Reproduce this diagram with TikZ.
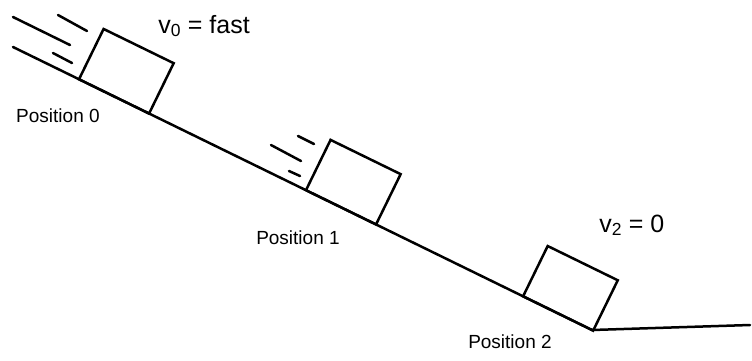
\documentclass[tikz,border=0pt]{standalone}
\usepackage{fontspec}
\setmainfont{Liberation Sans}
\usetikzlibrary{calc}
\begin{document}
\begin{tikzpicture}[x=1pt,y=-1pt,line width=2.5pt,line cap=round,
  blockbox/.style={draw,line width=2.5pt,minimum width=78pt,minimum height=56pt,inner sep=0pt,outer sep=0pt,rotate=-26.05,anchor=south west},
  poslabel/.style={anchor=base west,inner sep=0pt,font=\fontsize{19}{22}\selectfont},
  vlabel/.style={anchor=base west,inner sep=0pt,font=\fontsize{25}{29}\selectfont},
  speed/.style={line width=2.5pt}]
\useasboundingbox (0,0) rectangle (752,360);
% ground
\coordinate (top) at (13,47);
\coordinate (corner) at (592,330);
\coordinate (end) at (750,325);
\draw (top) -- (corner) -- (end);
% blocks
\node[blockbox] (b0) at ($(top)!0.114!(corner)$) {};
\node[blockbox] (b1) at ($(top)!0.506!(corner)$) {};
\node[blockbox] (b2) at ($(top)!0.881!(corner)$) {};
% speed lines, position 0
\draw[speed] (58,15) -- (87,31);
\draw[speed] (13,17) -- (70,45);
\draw[speed] (53,53) -- (72,63);
% speed lines, position 1
\draw[speed] (298,136) -- (314,144);
\draw[speed] (271,145) -- (301,161);
\draw[speed] (289,171) -- (300,176);
% labels
\node[poslabel] (p0) at (15,122) {Position 0};
\node[poslabel] (p1) at (255,244) {Position 1};
\node[poslabel] (p2) at (467,348) {Position 2};
\node[vlabel] (v0) at (157,33) {v\textsubscript{0} = fast};
\node[vlabel] (v2) at (598,232) {v\textsubscript{2} = 0};
\end{tikzpicture}
\end{document}
